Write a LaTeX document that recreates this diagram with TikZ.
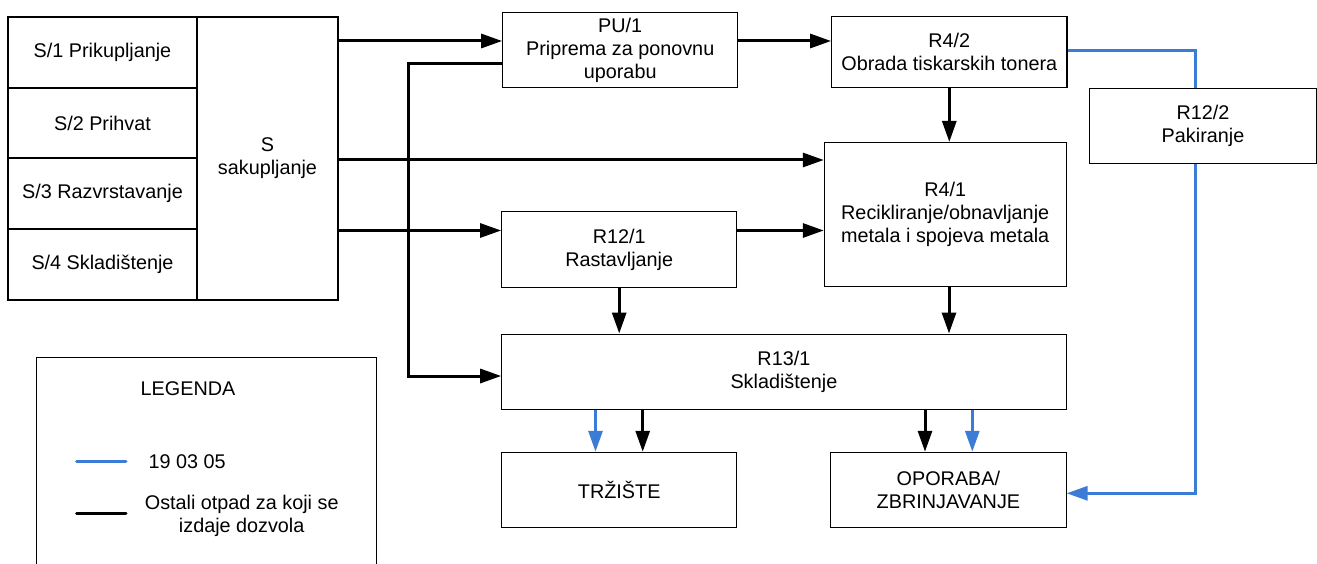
\documentclass[tikz,border=0pt]{standalone}
\usepackage{fontspec}
\setmainfont{Liberation Sans}
\usetikzlibrary{arrows.meta}
\definecolor{wblue}{RGB}{58,124,214}
\begin{document}
\begin{tikzpicture}[x=1pt,y=-1pt,
  font=\fontsize{19.8}{23}\selectfont,
  box/.style={draw=black, line width=1.1pt, rectangle, inner sep=0pt, align=center},
  conn/.style={line width=3pt, -{Triangle[length=21pt,width=14pt]}},
  bconn/.style={line width=3pt, draw=wblue, -{Triangle[length=21pt,width=14pt]}},
  bline/.style={line width=3pt, draw=wblue},
  txt/.style={inner sep=0pt, align=center}
]
\useasboundingbox (0,0) rectangle (1317,564);

% left stack
\node[box, minimum width=189pt, minimum height=71pt] (S1) at (102.5,52.5) {S/1 Prikupljanje};
\node[box, minimum width=189pt, minimum height=70pt] (S2) at (102.5,123) {S/2 Prihvat};
\node[box, minimum width=189pt, minimum height=71pt] (S3) at (102.5,193.5) {S/3 Razvrstavanje};
\node[box, minimum width=189pt, minimum height=71pt] (S4) at (102.5,264.5) {S/4 Skladištenje};
\node[box, minimum width=141pt, minimum height=283pt] (S) at (267.5,158.5) {S\\sakupljanje};

% process boxes
\node[box, minimum width=235pt, minimum height=75.4pt] (PU1) at (620.2,50) {PU/1\\Priprema za ponovnu\\uporabu};
\node[box, minimum width=235.3pt, minimum height=71pt] (R42) at (949.3,52.2) {R4/2\\Obrada tiskarskih tonera};
\node[box, minimum width=227.4pt, minimum height=75pt] (R122) at (1203,125.8) {R12/2\\Pakiranje};
\node[box, minimum width=241.7pt, minimum height=144.2pt] (R41) at (945.2,214.6) {R4/1\\Recikliranje/obnavljanje\\metala i spojeva metala};
\node[box, minimum width=235pt, minimum height=75.6pt] (R121) at (619.2,249.5) {R12/1\\Rastavljanje};
\node[box, minimum width=564.3pt, minimum height=75.3pt] (R131) at (783.9,371.7) {R13/1\\Skladištenje};
\node[box, minimum width=235pt, minimum height=75.4pt] (TRZ) at (619.2,490) {TRŽIŠTE};
\node[box, minimum width=235.3pt, minimum height=75.4pt] (OPO) at (948.4,490) {OPORABA/\\ZBRINJAVANJE};

% black connectors
\draw[conn] (S.east |- 0,41) -- (PU1.west |- 0,41);
\draw[conn] (PU1.east |- 0,41) -- (R42.west |- 0,41);
\draw[conn] (S.east |- 0,160) -- (R41.west |- 0,160);
\draw[conn] (S.east |- 0,230.5) -- (R121.west |- 0,230.5);
\coordinate (c1) at (408,64);
\coordinate (c2) at (408,376);
\draw[conn] (PU1.west |- c1) -- (c1) -- (c2) -- (R131.west |- c2);
\draw[conn] (R42.south) -- (R42.south |- R41.north);
\draw[conn] (R121.east |- 0,230.5) -- (R41.west |- 0,230.5);
\draw[conn] (R121.south) -- (R121.south |- R131.north);
\draw[conn] (949,0 |- R41.south) -- (949,0 |- R131.north);
\draw[conn] (642.7,0 |- R131.south) -- (642.7,0 |- TRZ.north);
\draw[conn] (925,0 |- R131.south) -- (925,0 |- OPO.north);

% blue connectors
\draw[bconn] (595.5,0 |- R131.south) -- (595.5,0 |- TRZ.north);
\draw[bconn] (972.3,0 |- R131.south) -- (972.3,0 |- OPO.north);
\draw[bline] (R42.east |- 0,51) -| (1195,0 |- R122.north);
\draw[bconn] (1195,0 |- R122.south) |- (OPO.east |- 0,493.3);

% legend
\draw[line width=1.1pt] (36.7,570) -- (36.7,357.7) -- (376.7,357.7) -- (376.7,570);
\node[txt] (leg) at (188,388.3) {LEGENDA};
\coordinate (lb1) at (76.7,461.7);
\coordinate (lb2) at (126,461.7);
\coordinate (lk1) at (76.7,513.3);
\coordinate (lk2) at (126,513.3);
\draw[bline, line cap=round] (lb1) -- (lb2);
\draw[line width=3pt, line cap=round] (lk1) -- (lk2);
\node[txt, anchor=west] (l1) at (148.3,461.7) {19 03 05};
\node[txt] (l2) at (241.7,515.5) {Ostali otpad za koji se\\izdaje dozvola};
\end{tikzpicture}
\end{document}
